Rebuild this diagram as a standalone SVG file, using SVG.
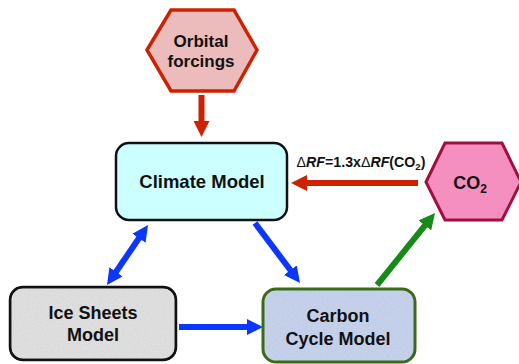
<svg xmlns="http://www.w3.org/2000/svg" width="519" height="364" viewBox="0 0 519 364">
<defs>
<style>
text{font-family:"Liberation Sans",Arial,sans-serif;font-weight:bold;fill:#111;text-anchor:middle}
.box{stroke-width:2.5}
.conn{stroke-width:6;fill:none}
</style>
<filter id="noise" x="0" y="0" width="100%" height="100%">
<feTurbulence type="fractalNoise" baseFrequency="0.9" numOctaves="2" seed="3" result="t"/>
<feColorMatrix in="t" type="matrix" values="0 0 0 0 0.5  0 0 0 0 0.5  0 0 0 0 0.5  0 0 0 0.35 0" result="n"/>
<feComposite in="n" in2="SourceGraphic" operator="in" result="nc"/>
<feBlend in="SourceGraphic" in2="nc" mode="multiply"/>
</filter>
<marker id="hr" viewBox="0 0 16 16" markerWidth="16" markerHeight="16" refX="2" refY="8" orient="auto-start-reverse" markerUnits="userSpaceOnUse"><path d="M0,0 L16,8 L0,16 z" fill="#cc2200"/></marker>
<marker id="hb" viewBox="0 0 16 16" markerWidth="16" markerHeight="16" refX="2" refY="8" orient="auto-start-reverse" markerUnits="userSpaceOnUse"><path d="M0,0 L16,8 L0,16 z" fill="#0a36ff"/></marker>
<marker id="hg" viewBox="0 0 16 16" markerWidth="16" markerHeight="16" refX="2" refY="8" orient="auto-start-reverse" markerUnits="userSpaceOnUse"><path d="M0,0 L16,8 L0,16 z" fill="#178a17"/></marker>
</defs>
<rect width="519" height="364" fill="#fff"/>
<g id="connectors">
<line class="conn" x1="201.5" y1="95" x2="201.5" y2="123" stroke="#cc2200" marker-end="url(#hr)"/>
<line class="conn" x1="418" y1="183" x2="305" y2="183" stroke="#cc2200" marker-end="url(#hr)"/>
<line class="conn" x1="179" y1="327" x2="249" y2="327" stroke="#0a36ff" marker-end="url(#hb)"/>
<line class="conn" x1="255" y1="223" x2="291.6" y2="271.8" stroke="#0a36ff" marker-end="url(#hb)"/>
<line class="conn" x1="377" y1="285" x2="426.2" y2="223.9" stroke="#178a17" marker-end="url(#hg)"/>
<line class="conn" x1="114.9" y1="273.45" x2="140.1" y2="236.55" stroke="#0a36ff" marker-start="url(#hb)" marker-end="url(#hb)"/>
<text x="361" y="167" font-size="14.2"><tspan font-weight="normal">Δ</tspan><tspan font-style="italic">RF</tspan>=1.3x<tspan font-weight="normal">Δ</tspan><tspan font-style="italic">RF</tspan>(CO<tspan font-size="9.5" dy="3">2</tspan><tspan dy="-3">)</tspan></text>
</g>
<g id="orbital">
<polygon points="147,50 171,10 234,10 257,50 234,91 171,91" fill="#ecbcbc" stroke="#cc2200" stroke-width="3.5"/>
<text x="201" y="47" font-size="17">Orbital</text>
<text x="201" y="67" font-size="17">forcings</text>
</g>
<g id="climate">
<rect class="box" x="116" y="143" width="171" height="77" rx="13" fill="#ccffff" stroke="#111"/>
<text x="202" y="188" font-size="18.5">Climate Model</text>
</g>
<g id="co2">
<polygon points="426,182 445,143 502,143 521,182 502,220 445,220" fill="#f58fc0" stroke="#a0103c" stroke-width="3"/>
<text x="470" y="189" font-size="18">CO<tspan font-size="12" dy="4">2</tspan></text>
</g>
<g id="icesheets">
<rect class="box" x="10" y="287" width="166" height="73" rx="13" fill="#e6e6e6" stroke="#111" filter="url(#noise)"/>
<rect class="box" x="10" y="287" width="166" height="73" rx="13" fill="none" stroke="#111"/>
<text x="93" y="319" font-size="18">Ice Sheets</text>
<text x="93" y="341" font-size="18">Model</text>
</g>
<g id="carbon">
<rect x="263" y="289" width="152" height="73" rx="13" fill="#ccd8f2" filter="url(#noise)"/>
<rect x="263" y="289" width="152" height="73" rx="13" fill="none" stroke="#3a6a1a" stroke-width="3"/>
<text x="338" y="322" font-size="18">Carbon</text>
<text x="338" y="345" font-size="18">Cycle Model</text>
</g>
</svg>
